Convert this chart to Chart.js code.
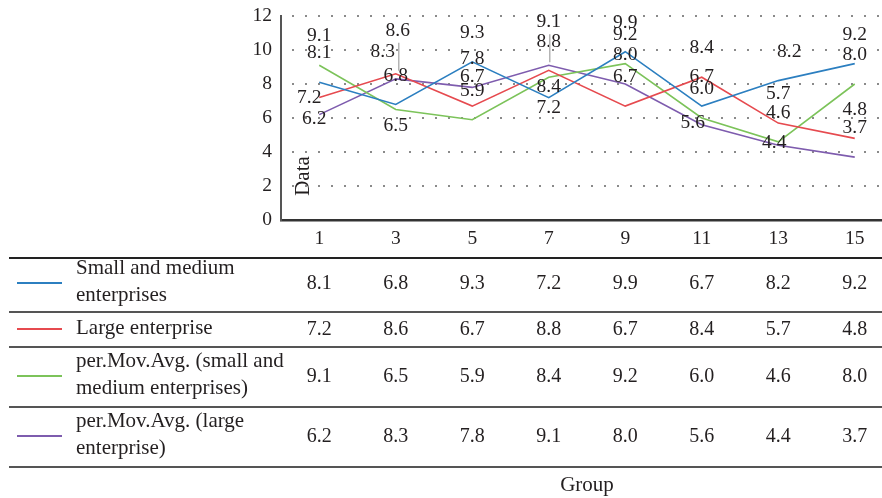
<!DOCTYPE html>
<html>
<head>
<meta charset="utf-8">
<script src="https://cdn.jsdelivr.net/npm/chart.js@4/dist/chart.umd.min.js"></script>
<style>
  html, body { margin: 0; padding: 0; background: #fff; overflow: hidden; }
  #wrap { width: 900px; height: 498px; }
</style>
</head>
<body>
<div id="wrap"><canvas id="c" width="900" height="498"></canvas></div>
<script>
// Groups on the x axis
const groups = ['1', '3', '5', '7', '9', '11', '13', '15'];

// Series values
const smallMedium = [8.1, 6.8, 9.3, 7.2, 9.9, 6.7, 8.2, 9.2];
const largeEnterprise = [7.2, 8.6, 6.7, 8.8, 6.7, 8.4, 5.7, 4.8];
const movAvgSmallMedium = [9.1, 6.5, 5.9, 8.4, 9.2, 6.0, 4.6, 8.0];
const movAvgLarge = [6.2, 8.3, 7.8, 9.1, 8.0, 5.6, 4.4, 3.7];

// Series names (as shown in the data table, one entry per text line)
const seriesNames = [
  ['Small and medium', 'enterprises'],
  ['Large enterprise'],
  ['per.Mov.Avg. (small and', 'medium enterprises)'],
  ['per.Mov.Avg. (large', 'enterprise)']
];

// Y axis ticks
const yTicks = [0, 2, 4, 6, 8, 10, 12];

const colors = ['#2c7fc0', '#e64a4f', '#7cc35a', '#7e5cae'];
const TEXT = '#231f20';
const SERIF = '"Liberation Serif", "DejaVu Serif", serif';

// Value-label nudges [dx, dy, leader] relative to the default spot above the point
const labelNudge = [
  [null, null, null, [0, 10], null, null, [11, -29], null],
  [[-10, 0], [2, -43, true], null, null, null, null, null, null],
  [null, [0, 16], null, [0, 10], null, null, null, null],
  [[-5, 4], [-13, -27], null, [0, -43, true], null, [-9, -2], [-4, -2], null]
];

const allSeries = [smallMedium, largeEnterprise, movAvgSmallMedium, movAvgLarge];

const valueLabels = {
  id: 'valueLabels',
  afterDatasetsDraw(chart) {
    const ctx = chart.ctx;
    ctx.save();
    ctx.font = '19.5px ' + SERIF;
    ctx.fillStyle = TEXT;
    ctx.textAlign = 'center';
    ctx.textBaseline = 'middle';
    chart.data.datasets.forEach((ds, di) => {
      const meta = chart.getDatasetMeta(di);
      meta.data.forEach((pt, i) => {
        const n = labelNudge[di][i];
        const dx = n ? n[0] : 0;
        const dy = n ? n[1] : -29;
        const x = pt.x + dx, y = pt.y + dy;
        if (n && n[2]) {
          ctx.save();
          ctx.strokeStyle = '#b4b4b4';
          ctx.lineWidth = 1.5;
          ctx.beginPath();
          ctx.moveTo(x + 1, y + 12);
          ctx.lineTo(x + 1, pt.y - 3);
          ctx.stroke();
          ctx.restore();
        }
        ctx.fillText(ds.data[i].toFixed(1), x, y);
      });
    });
    ctx.restore();
  }
};

const dataTable = {
  id: 'dataTable',
  afterDraw(chart) {
    const ctx = chart.ctx;
    const xs = chart.scales.x;
    const area = chart.chartArea;
    const right = chart.width;
    ctx.save();

    // Y axis title inside the plot
    ctx.save();
    ctx.translate(303, 176);
    ctx.rotate(-Math.PI / 2);
    ctx.font = '21px ' + SERIF;
    ctx.fillStyle = TEXT;
    ctx.textAlign = 'center';
    ctx.textBaseline = 'middle';
    ctx.fillText('Data', 0, 0);
    ctx.restore();

    // Row rules
    const rules = [258, 312, 347, 407, 467];
    rules.forEach((y, k) => {
      ctx.strokeStyle = k === 0 ? '#222' : '#555';
      ctx.lineWidth = 2;
      ctx.beginPath();
      ctx.moveTo(9, y);
      ctx.lineTo(right, y);
      ctx.stroke();
    });

    // Rows: key line, series name, values
    const rowCenters = [284, 330, 377, 437];
    allSeries.forEach((vals, r) => {
      const cy = rowCenters[r];
      ctx.strokeStyle = colors[r];
      ctx.lineWidth = 2;
      ctx.beginPath();
      ctx.moveTo(17, cy - 1);
      ctx.lineTo(62, cy - 1);
      ctx.stroke();

      ctx.fillStyle = TEXT;
      ctx.font = '21px ' + SERIF;
      ctx.textAlign = 'left';
      ctx.textBaseline = 'middle';
      const lines = seriesNames[r];
      const lh = 27;
      const y0 = cy - (lines.length - 1) * lh / 2 - 2;
      lines.forEach((t, k) => ctx.fillText(t, 76, y0 + k * lh));

      ctx.font = '20px ' + SERIF;
      ctx.textAlign = 'center';
      vals.forEach((v, i) => {
        ctx.fillText(v.toFixed(1), xs.getPixelForValue(i), cy);
      });
    });

    // X axis title below the table
    ctx.font = '21px ' + SERIF;
    ctx.textAlign = 'center';
    ctx.textBaseline = 'middle';
    ctx.fillStyle = TEXT;
    ctx.fillText('Group', (area.left + area.right) / 2, 485);
    ctx.restore();
  }
};

new Chart(document.getElementById('c'), {
  type: 'line',
  data: {
    labels: groups,
    datasets: allSeries.map((vals, i) => ({
      label: seriesNames[i].join(' '),
      data: vals,
      borderColor: colors[i],
      backgroundColor: colors[i],
      borderWidth: 1.6,
      pointRadius: 0,
      tension: 0,
      fill: false
    }))
  },
  options: {
    responsive: false,
    animation: false,
    devicePixelRatio: 1,
    layout: { padding: { left: 241, right: 7, top: 16, bottom: 248 } },
    plugins: { legend: { display: false }, tooltip: { enabled: false } },
    scales: {
      x: {
        offset: true,
        grid: { display: false, drawTicks: false },
        border: { display: true, color: '#333', width: 2.5 },
        ticks: {
          color: TEXT,
          font: { family: SERIF, size: 19.5 },
          padding: 7,
          maxRotation: 0
        },
        afterFit(s) { s.height = 30; s.paddingLeft = 0; s.paddingRight = 0; }
      },
      y: {
        min: 0,
        max: 12,
        afterBuildTicks(s) { s.ticks = yTicks.map(v => ({ value: v })); },
        grid: { color: '#8a8a8a', lineWidth: 2, drawTicks: false },
        border: { display: true, color: '#555', width: 2, dash: [2, 11], dashOffset: -10 },
        ticks: {
          color: TEXT,
          font: { family: SERIF, size: 19.5 },
          padding: 9
        },
        afterFit(s) { s.width = 40; s.paddingTop = 0; s.paddingBottom = 0; }
      }
    }
  },
  plugins: [valueLabels, dataTable]
});
</script>
</body>
</html>
